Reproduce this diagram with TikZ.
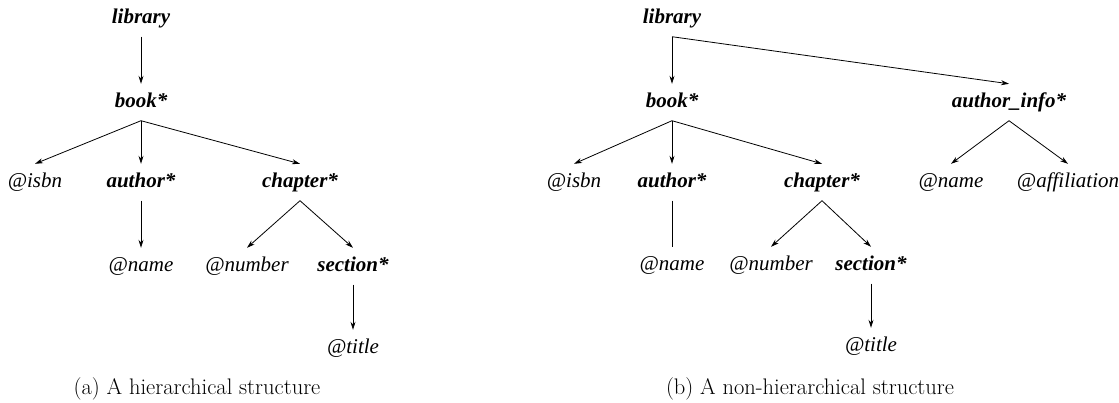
\documentclass[tikz,border=0pt]{standalone}
\usepackage{fontspec}
\newfontfamily\labfont{Liberation Serif}
\usetikzlibrary{arrows.meta}
\begin{document}
\begin{tikzpicture}[x=1pt,y=-1pt,
  lbl/.style={anchor=base,inner xsep=0pt,inner ysep=8.5pt,text height=14.5pt,text depth=5pt,
    font=\labfont\fontsize{21}{25}\selectfont\itshape},
  elem/.style={lbl,font=\labfont\fontsize{21}{25}\selectfont\bfseries\itshape},
  attr/.style={lbl},
  edge/.style={line width=0.8pt,-{Stealth[length=8pt,width=5pt,inset=2.5pt]}},
  plain/.style={line width=0.8pt},
  capt/.style={anchor=base,inner sep=0pt,font=\fontsize{22.5}{26}\selectfont}]
\useasboundingbox (0,0) rectangle (1119,402);
% ---- left tree
\node[elem] (lib) at (141,23) {library};
\node[elem] (book) at (141,107) {book*};
\node[attr] (isbn) at (35,187) {@isbn};
\node[elem] (auth) at (141,187) {author*};
\node[elem] (chap) at (300,187) {chapter*};
\node[attr] (name) at (141,271) {@name};
\node[attr] (num) at (247,271) {@number};
\node[elem] (sec) at (353,271) {section*};
\node[attr] (tit) at (353,353) {@title};
\draw[edge] (lib.south) -- (book.north);
\draw[edge] (book.south) -- (isbn.north);
\draw[edge] (book.south) -- (auth.north);
\draw[edge] (book.south) -- (chap.north);
\draw[edge] (auth.south) -- (name.north);
\draw[edge] (chap.south) -- (num.north);
\draw[edge] (chap.south) -- (sec.north);
\draw[edge] (sec.south) -- (tit.north);
\node[capt] (capa) at (197,394) {(a) A hierarchical structure};
% ---- right tree
\node[elem] (rlib) at (672,23) {library};
\node[elem] (rbook) at (672,107) {book*};
\node[elem] (rinfo) at (1009,107) {author\_info*};
\node[attr] (risbn) at (574,187) {@isbn};
\node[elem] (rauth) at (672,187) {author*};
\node[elem] (rchap) at (822,187) {chapter*};
\node[attr] (rname2) at (951,187) {@name};
\node[attr] (raff) at (1068,187) {@affiliation};
\node[attr] (rname) at (672,270) {@name};
\node[attr] (rnum) at (771,270) {@number};
\node[elem] (rsec) at (871,270) {section*};
\node[attr] (rtit) at (871,351) {@title};
\draw[edge] (rlib.south) -- (rbook.north);
\draw[edge] (rlib.south) -- (rinfo.north);
\draw[edge] (rbook.south) -- (risbn.north);
\draw[edge] (rbook.south) -- (rauth.north);
\draw[edge] (rbook.south) -- (rchap.north);
\draw[plain] (rauth.south) -- (rname.north);
\draw[edge] (rchap.south) -- (rnum.north);
\draw[edge] (rchap.south) -- (rsec.north);
\draw[edge] (rsec.south) -- (rtit.north);
\draw[edge] (rinfo.south) -- (rname2.north);
\draw[edge] (rinfo.south) -- (raff.north);
\node[capt] (capb) at (810,394) {(b) A non-hierarchical structure};
\end{tikzpicture}
\end{document}
